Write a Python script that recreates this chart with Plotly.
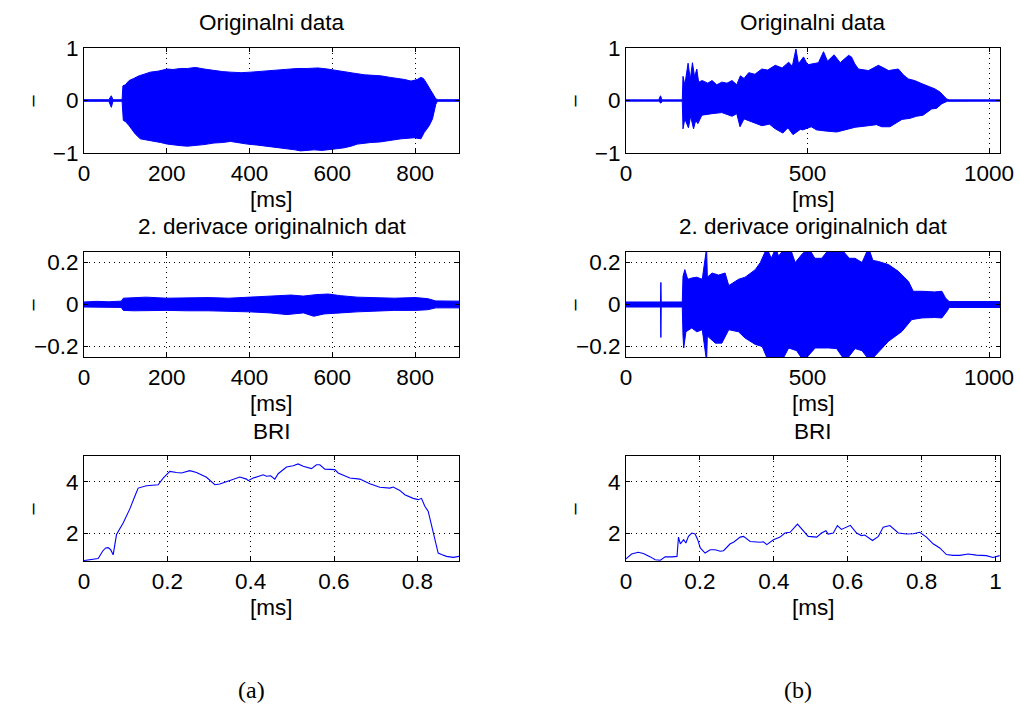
import plotly.graph_objects as go

# ---------------- data ----------------
# (a) Originalni data : envelope of the waveform, ms / value
a_orig_up_t = [0, 60, 66, 70, 92, 94, 100, 109, 120, 133, 145, 160, 180, 201, 215, 233, 250, 269, 290, 314,
               335, 354, 380, 403, 420, 443, 465, 491, 515, 540, 565, 588, 610, 629, 652, 677, 700, 717, 740,
               758, 775, 790, 805, 814, 820, 826, 832, 838, 845, 850, 856, 906]
a_orig_up_v = [0.015, 0.015, 0.09, 0.015, 0.015, 0.28, 0.30, 0.38, 0.42, 0.47, 0.50, 0.54, 0.56, 0.60, 0.59,
               0.61, 0.61, 0.63, 0.60, 0.57, 0.55, 0.54, 0.53, 0.54, 0.55, 0.56, 0.58, 0.60, 0.61, 0.61, 0.62,
               0.60, 0.57, 0.54, 0.52, 0.49, 0.48, 0.47, 0.44, 0.42, 0.40, 0.37, 0.40, 0.44, 0.42, 0.35, 0.28,
               0.19, 0.10, 0.03, 0.015, 0.015]
a_orig_lo_t = [0, 60, 66, 70, 92, 95, 100, 109, 124, 136, 150, 168, 185, 201, 220, 233, 250, 269, 290, 314,
               335, 354, 375, 394, 420, 443, 465, 491, 510, 523, 540, 556, 575, 588, 610, 629, 645, 661, 693,
               715, 733, 766, 798, 814, 822, 830, 834, 842, 846, 850, 854, 906]
a_orig_lo_v = [-0.015, -0.015, -0.13, -0.015, -0.015, -0.38, -0.40, -0.48, -0.64, -0.73, -0.75, -0.77, -0.80,
               -0.83, -0.85, -0.86, -0.87, -0.86, -0.84, -0.81, -0.80, -0.78, -0.80, -0.83, -0.85, -0.86, -0.89,
               -0.92, -0.94, -0.96, -0.95, -0.94, -0.95, -0.94, -0.92, -0.90, -0.87, -0.83, -0.80, -0.79, -0.77,
               -0.73, -0.71, -0.73, -0.61, -0.52, -0.48, -0.35, -0.25, -0.07, -0.015, -0.015]

# (b) Originalni data
b_orig_up_t = [0, 90, 95, 99, 155, 157, 162, 167, 171, 177, 183, 189, 195, 200, 210, 225, 237, 250, 264, 278,
               292, 305, 315, 325, 338, 355, 374, 390, 411, 430, 448, 458, 468, 475, 489, 500, 516, 530, 544,
               555, 573, 590, 613, 621, 630, 640, 668, 695, 710, 723, 750, 765, 778, 795, 815, 830, 851, 865,
               875, 883, 890, 1030]
b_orig_up_v = [0.012, 0.012, 0.09, 0.012, 0.012, 0.46, 0.30, 0.55, 0.71, 0.40, 0.72, 0.45, 0.60, 0.35, 0.38,
               0.33, 0.38, 0.30, 0.35, 0.33, 0.38, 0.30, 0.47, 0.42, 0.53, 0.50, 0.60, 0.58, 0.67, 0.62, 0.73,
               0.65, 0.98, 0.70, 0.83, 0.68, 0.70, 0.72, 0.93, 0.75, 0.87, 0.72, 0.86, 0.83, 0.70, 0.60, 0.57,
               0.67, 0.62, 0.57, 0.60, 0.48, 0.41, 0.38, 0.32, 0.28, 0.22, 0.16, 0.08, 0.03, 0.012, 0.012]
b_orig_lo_t = [0, 90, 96, 100, 155, 157, 162, 172, 178, 186, 192, 198, 209, 237, 264, 292, 305, 314, 325, 338,
               374, 395, 411, 432, 446, 460, 480, 487, 510, 525, 548, 580, 603, 631, 644, 668, 690, 704, 727,
               741, 760, 782, 800, 818, 842, 855, 870, 885, 890, 1030]
b_orig_lo_v = [-0.012, -0.012, -0.05, -0.012, -0.012, -0.54, -0.35, -0.52, -0.30, -0.54, -0.38, -0.44, -0.28,
               -0.25, -0.23, -0.30, -0.25, -0.50, -0.35, -0.38, -0.48, -0.45, -0.54, -0.62, -0.52, -0.65, -0.55,
               -0.56, -0.50, -0.56, -0.58, -0.60, -0.56, -0.51, -0.50, -0.48, -0.46, -0.50, -0.50, -0.44, -0.36,
               -0.34, -0.30, -0.28, -0.16, -0.15, -0.06, -0.015, -0.012, -0.012]

# (a) 2. derivace originalnich dat
a_der_up_t = [0, 30, 60, 90, 95, 120, 150, 200, 250, 300, 350, 400, 450, 500, 530, 560, 590, 620, 660, 700,
              750, 800, 830, 850, 906]
a_der_up_v = [0.012, 0.015, 0.013, 0.016, 0.030, 0.032, 0.035, 0.030, 0.032, 0.033, 0.030, 0.035, 0.042,
              0.045, 0.040, 0.047, 0.050, 0.042, 0.035, 0.032, 0.030, 0.033, 0.028, 0.017, 0.016]
a_der_lo_t = [0, 90, 95, 120, 200, 250, 300, 350, 400, 450, 490, 530, 555, 580, 620, 660, 700, 750, 800, 830,
              850, 906]
a_der_lo_v = [-0.012, -0.014, -0.028, -0.030, -0.028, -0.030, -0.030, -0.032, -0.035, -0.040, -0.048, -0.040,
              -0.056, -0.045, -0.040, -0.035, -0.030, -0.028, -0.028, -0.025, -0.016, -0.016]

# (b) 2. derivace originalnich dat
b_der_up_t = [0, 95, 96, 97, 155, 157, 162, 170, 181, 195, 210, 222, 224, 237, 255, 273, 283, 300, 310, 328,
              356, 370, 388, 400, 413, 420, 438, 452, 466, 485, 503, 520, 539, 562, 576, 590, 615, 631, 650,
              668, 680, 695, 723, 750, 778, 791, 815, 850, 870, 880, 890, 1030]
b_der_up_v = [0.012, 0.012, 0.105, 0.012, 0.012, 0.134, 0.166, 0.12, 0.126, 0.13, 0.12, 0.27, 0.13, 0.15,
              0.14, 0.15, 0.09, 0.11, 0.12, 0.13, 0.166, 0.20, 0.27, 0.22, 0.27, 0.23, 0.27, 0.27, 0.20, 0.24,
              0.27, 0.22, 0.22, 0.27, 0.27, 0.27, 0.22, 0.22, 0.20, 0.27, 0.21, 0.205, 0.19, 0.158, 0.11, 0.063,
              0.063, 0.06, 0.063, 0.031, 0.014, 0.014]
b_der_lo_t = [0, 95, 96, 97, 155, 157, 159, 165, 181, 195, 210, 222, 224, 246, 264, 283, 310, 328, 356, 375,
              392, 411, 429, 448, 470, 489, 521, 558, 580, 604, 631, 650, 672, 695, 723, 760, 787, 815, 850,
              870, 885, 890, 1030]
b_der_lo_v = [-0.012, -0.012, -0.157, -0.012, -0.012, -0.15, -0.207, -0.13, -0.112, -0.13, -0.12, -0.27,
              -0.15, -0.184, -0.184, -0.12, -0.13, -0.16, -0.19, -0.20, -0.27, -0.27, -0.27, -0.207, -0.22,
              -0.27, -0.207, -0.207, -0.21, -0.27, -0.21, -0.22, -0.27, -0.23, -0.175, -0.128, -0.072, -0.064,
              -0.062, -0.064, -0.03, -0.014, -0.014]

# (a) BRI
a_bri_x = [0, 0.022, 0.034, 0.045, 0.052, 0.058, 0.064, 0.070, 0.078, 0.094, 0.110, 0.122, 0.130, 0.150,
           0.170, 0.178, 0.190, 0.206, 0.222, 0.234, 0.254, 0.270, 0.294, 0.314, 0.326, 0.358, 0.374, 0.390,
           0.394, 0.406, 0.422, 0.430, 0.438, 0.448, 0.458, 0.466, 0.486, 0.502, 0.514, 0.526, 0.546, 0.558,
           0.566, 0.578, 0.602, 0.610, 0.638, 0.662, 0.686, 0.710, 0.734, 0.742, 0.758, 0.770, 0.790, 0.802,
           0.810, 0.818, 0.826, 0.838, 0.850, 0.858, 0.870, 0.886, 0.900]
a_bri_y = [0.93, 0.99, 1.01, 1.30, 1.42, 1.43, 1.35, 1.15, 1.94, 2.39, 2.94, 3.43, 3.75, 3.84, 3.87, 3.88,
           4.14, 4.40, 4.36, 4.34, 4.43, 4.36, 4.17, 3.88, 3.91, 4.10, 4.18, 4.10, 4.04, 4.14, 4.23, 4.27,
           4.21, 4.23, 4.10, 4.31, 4.57, 4.62, 4.69, 4.60, 4.51, 4.66, 4.66, 4.49, 4.47, 4.34, 4.14, 4.10,
           3.92, 3.78, 3.75, 3.79, 3.66, 3.49, 3.35, 3.30, 3.35, 3.04, 2.85, 2.00, 1.22, 1.16, 1.09, 1.05, 1.09]

# (b) BRI
b_bri_x = [0, 0.015, 0.033, 0.047, 0.066, 0.079, 0.093, 0.106, 0.124, 0.138, 0.142, 0.147, 0.156, 0.162,
           0.169, 0.178, 0.187, 0.194, 0.201, 0.214, 0.228, 0.241, 0.255, 0.264, 0.282, 0.291, 0.309, 0.318,
           0.336, 0.363, 0.372, 0.381, 0.399, 0.417, 0.430, 0.444, 0.464, 0.480, 0.493, 0.516, 0.529, 0.541,
           0.547, 0.561, 0.572, 0.583, 0.592, 0.607, 0.624, 0.637, 0.646, 0.667, 0.683, 0.696, 0.714, 0.737,
           0.759, 0.777, 0.795, 0.813, 0.831, 0.849, 0.867, 0.885, 0.903, 0.926, 0.948, 0.975, 0.993, 1.011]
b_bri_y = [0.99, 1.18, 1.25, 1.20, 1.07, 0.96, 0.94, 1.07, 1.07, 1.09, 1.84, 1.58, 1.74, 1.61, 1.87, 2.00,
           1.96, 1.74, 1.42, 1.22, 1.35, 1.35, 1.29, 1.31, 1.58, 1.64, 1.84, 1.87, 1.67, 1.64, 1.66, 1.55,
           1.74, 1.84, 2.00, 2.03, 2.35, 2.06, 1.87, 1.84, 2.00, 2.09, 1.96, 2.00, 2.29, 2.14, 2.20, 2.30,
           2.00, 1.90, 1.92, 1.71, 1.87, 2.23, 2.29, 2.00, 1.96, 1.97, 2.03, 1.84, 1.58, 1.42, 1.16, 1.13,
           1.13, 1.18, 1.14, 1.12, 1.05, 1.12]

# ticks / labels
ms_ticks_a = [0, 200, 400, 600, 800]
ms_ticks_b = [0, 500, 1000]
s_ticks_a = [0, 0.2, 0.4, 0.6, 0.8]
s_ticks_b = [0, 0.2, 0.4, 0.6, 0.8, 1]
orig_yticks = [-1, 0, 1]
der_yticks = [-0.2, 0, 0.2]
bri_yticks = [2, 4]
titles = ["Originalni data", "2. derivace originalnich dat", "BRI"]
xlabel = "[ms]"
ylabel = "–"
panel_labels = ["(a)", "(b)"]

# ---------------- figure ----------------
W, H = 1020, 709
BLUE = "#0000ff"
FONT = "Liberation Sans, Arial, Helvetica, sans-serif"
FS = 22.5

cols = [(84, 459), (626, 1000)]
rows = [(48, 153), (252, 357), (456, 561)]


def px_x(p):
    return p / W


def px_y(p):
    return 1 - p / H


fig = go.Figure()


def band(t_up, v_up, t_lo, v_lo):
    xs = list(t_up) + list(t_lo)[::-1]
    ys = list(v_up) + list(v_lo)[::-1]
    return xs, ys


panels = [
    (0, 0, "band", (a_orig_up_t, a_orig_up_v, a_orig_lo_t, a_orig_lo_v), [0, 906], ms_ticks_a, [-1, 1], orig_yticks),
    (0, 1, "band", (b_orig_up_t, b_orig_up_v, b_orig_lo_t, b_orig_lo_v), [0, 1030], ms_ticks_b, [-1, 1], orig_yticks),
    (1, 0, "band", (a_der_up_t, a_der_up_v, a_der_lo_t, a_der_lo_v), [0, 906], ms_ticks_a, [-0.25, 0.25], der_yticks),
    (1, 1, "band", (b_der_up_t, b_der_up_v, b_der_lo_t, b_der_lo_v), [0, 1030], ms_ticks_b, [-0.25, 0.25], der_yticks),
    (2, 0, "line", (a_bri_x, a_bri_y), [0, 0.9], s_ticks_a, [0.91, 5], bri_yticks),
    (2, 1, "line", (b_bri_x, b_bri_y), [0, 1.012], s_ticks_b, [0.91, 5], bri_yticks),
]

layout = {}
annotations = []
for i, (r, c, kind, data, xr, xt, yr, yt) in enumerate(panels):
    n = i + 1
    xa = "x" if n == 1 else f"x{n}"
    ya = "y" if n == 1 else f"y{n}"
    if kind == "band":
        xs, ys = band(*data)
        fig.add_trace(go.Scatter(x=xs, y=ys, xaxis=xa, yaxis=ya, mode="lines", fill="toself",
                                 fillcolor=BLUE, line=dict(color=BLUE, width=1), hoverinfo="skip",
                                 showlegend=False))
    else:
        fig.add_trace(go.Scatter(x=data[0], y=data[1], xaxis=xa, yaxis=ya, mode="lines",
                                 line=dict(color=BLUE, width=1.1), showlegend=False))
    x0, x1 = cols[c]
    y0, y1 = rows[r]
    common = dict(showline=True, linecolor="black", linewidth=1, mirror="ticks", ticks="inside",
                  ticklen=4, tickcolor="black", showgrid=True, gridcolor="black", gridwidth=1,
                  griddash="1px,4px", zeroline=False, tickfont=dict(family=FONT, size=FS, color="black"),
                  fixedrange=True, automargin=False)
    layout["xaxis" if n == 1 else f"xaxis{n}"] = dict(
        domain=[px_x(x0), px_x(x1)], range=xr, tickvals=xt, ticktext=[f"{v:g}" for v in xt],
        anchor=ya, **common)
    layout["yaxis" if n == 1 else f"yaxis{n}"] = dict(
        domain=[px_y(y1), px_y(y0)], range=yr, tickvals=yt,
        ticktext=[f"{v:g}".replace("-", "\u2212") for v in yt], anchor=xa, **common)
    cx = (x0 + x1) / 2
    annotations.append(dict(text=titles[r], x=px_x(cx), y=px_y(y0 - 25), xref="paper", yref="paper",
                            showarrow=False, xanchor="center", yanchor="middle",
                            font=dict(family=FONT, size=FS, color="black")))
    annotations.append(dict(text=xlabel, x=px_x(cx), y=px_y(y1 + 46), xref="paper", yref="paper",
                            showarrow=False, xanchor="center", yanchor="middle",
                            font=dict(family=FONT, size=FS, color="black")))
    annotations.append(dict(text=ylabel, x=px_x(x0 - 53), y=px_y((y0 + y1) / 2), xref="paper", yref="paper",
                            showarrow=False, xanchor="center", yanchor="middle", textangle=-90,
                            font=dict(family=FONT, size=20, color="black")))

for k, lab in enumerate(panel_labels):
    annotations.append(dict(text=lab, x=px_x([251, 798][k]), y=px_y(690), xref="paper", yref="paper",
                            showarrow=False, xanchor="center", yanchor="middle",
                            font=dict(family="Liberation Serif, DejaVu Serif, serif", size=24, color="black")))

fig.update_layout(template="none", width=W, height=H, margin=dict(l=0, r=0, t=0, b=0, pad=0),
                  autosize=False, paper_bgcolor="white", plot_bgcolor="white", showlegend=False,
                  annotations=annotations, **layout)

fig.write_html("out.html", post_script="document.body.style.margin='0';document.body.style.overflow='hidden';")
